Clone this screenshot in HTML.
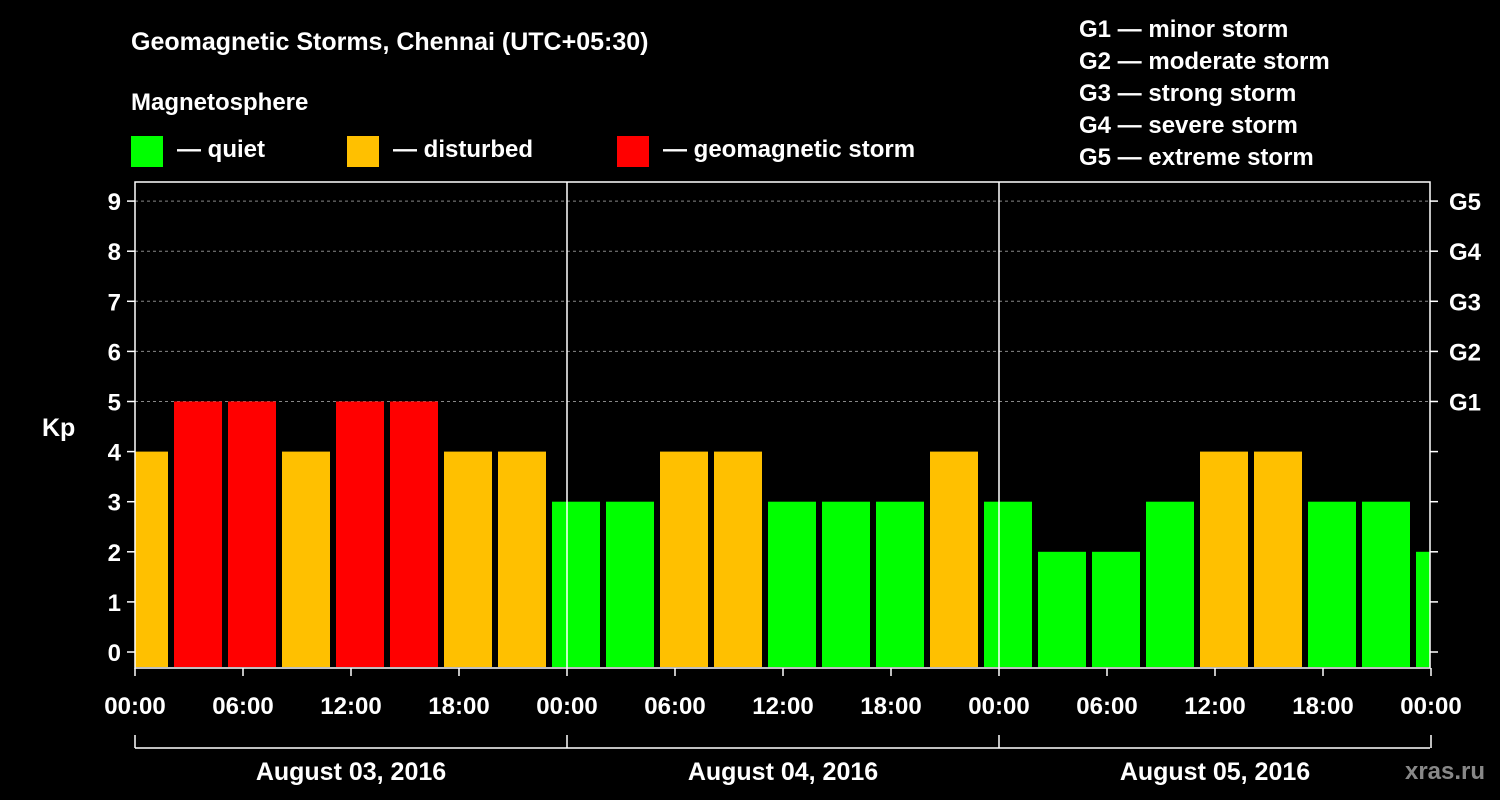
<!DOCTYPE html>
<html><head><meta charset="utf-8"><style>
html,body{margin:0;padding:0;background:#000;}
svg{display:block;font-family:"Liberation Sans",Arial,sans-serif;font-weight:bold;}
</style></head><body>
<svg id="chart" width="1500" height="800" viewBox="0 0 1500 800">
<rect width="1500" height="800" fill="#000"/>
<text x="131" y="50" fill="#fff" font-size="25">Geomagnetic Storms, Chennai (UTC+05:30)</text>
<text x="131" y="110" fill="#fff" font-size="24">Magnetosphere</text>
<g>
<rect x="131" y="136" width="32" height="31" fill="#00ff00"/>
<text x="177" y="157" fill="#fff" font-size="24">— quiet</text>
<rect x="347" y="136" width="32" height="31" fill="#ffc000"/>
<text x="393" y="157" fill="#fff" font-size="24">— disturbed</text>
<rect x="617" y="136" width="32" height="31" fill="#ff0000"/>
<text x="663" y="157" fill="#fff" font-size="24">— geomagnetic storm</text>
</g>
<g fill="#fff" font-size="24">
<text x="1079" y="37">G1 — minor storm</text>
<text x="1079" y="69">G2 — moderate storm</text>
<text x="1079" y="101">G3 — strong storm</text>
<text x="1079" y="133">G4 — severe storm</text>
<text x="1079" y="165">G5 — extreme storm</text>
</g>
<text x="42" y="436" fill="#fff" font-size="25">Kp</text>
<g id="grid"></g>
<g id="bars"></g>
<g id="axes"></g>
<text x="1445" y="779" fill="#888" font-size="24" text-anchor="middle">xras.ru</text>
</svg>
<script>
const kpValues = [4,5,5,4,5,5,4,4, 3,3,4,4,3,3,3,4, 3,2,2,3,4,4,3,3, 2];
const yTicks = [0,1,2,3,4,5,6,7,8,9];
const gLabels = ["G1","G2","G3","G4","G5"];
const xTickLabels = ["00:00","06:00","12:00","18:00","00:00","06:00","12:00","18:00","00:00","06:00","12:00","18:00","00:00"];
const dayLabels = ["August 03, 2016","August 04, 2016","August 05, 2016"];

const NS="http://www.w3.org/2000/svg";
const L=135,R=1430,T=182,B=668;
const y=v=>652-v*50.1;
const xh=h=>L+h*18; // hours from start
function mk(tag,attrs,parent){const e=document.createElementNS(NS,tag);for(const k in attrs)e.setAttribute(k,attrs[k]);parent.appendChild(e);return e;}
const grid=document.getElementById('grid'),bars=document.getElementById('bars'),axes=document.getElementById('axes');
for(let v=5;v<=9;v++){
  const g=mk('line',{x1:L,x2:R,y1:y(v),y2:y(v),stroke:'#888','stroke-dasharray':'3,3','stroke-width':1},grid);
  
  
}
function color(v){return v>=5?'#ff0000':(v>=4?'#ffc000':'#00ff00');}
kpValues.forEach((v,i)=>{
  let x0=xh(-5/6+3*i), x1=x0+48;
  x0=Math.max(x0,L); x1=Math.min(x1,R);
  const r=mk('rect',{x:x0,y:y(v),width:x1-x0,height:668-y(v)-1,fill:color(v)},bars);
  
  
});
const frame=mk('rect',{x:L,y:T,width:R-L,height:B-T,fill:'none',stroke:'#fff','stroke-width':1.5},axes);


[1,2].forEach(d=>{
  const l=mk('line',{x1:xh(24*d),x2:xh(24*d),y1:T,y2:B,stroke:'#fff','stroke-width':1.5},axes);
  
  
});
yTicks.forEach(v=>{
  const t=mk('line',{x1:L-8,x2:L,y1:y(v),y2:y(v),stroke:'#fff','stroke-width':1.5},axes);
  
  
  const t2=mk('line',{x1:R,x2:R+8,y1:y(v),y2:y(v),stroke:'#fff','stroke-width':1.5},axes);
  
  
  const tx=mk('text',{x:L-14,y:y(v)+9,fill:'#fff','font-size':24,'text-anchor':'end'},axes);
  tx.textContent=v;
  
  
});
gLabels.forEach((g,i)=>{
  const tx=mk('text',{x:1449,y:y(5+i)+9,fill:'#fff','font-size':24},axes);
  tx.textContent=g;
  
  
});
xTickLabels.forEach((s,i)=>{
  const x=xh(6*i);
  const t=mk('line',{x1:x,x2:x,y1:B,y2:B+8,stroke:'#fff','stroke-width':1.5},axes);
  
  
  const tx=mk('text',{x:x,y:714,fill:'#fff','font-size':24,'text-anchor':'middle'},axes);
  tx.textContent=s;
  
  
});
const br=mk('line',{x1:L,x2:R,y1:748,y2:748,stroke:'#fff','stroke-width':1.5},axes);


for(let d=0;d<=3;d++){
  const t=mk('line',{x1:xh(24*d),x2:xh(24*d),y1:735,y2:748,stroke:'#fff','stroke-width':1.5},axes);
  
  
}
dayLabels.forEach((s,i)=>{
  const tx=mk('text',{x:xh(24*i+12),y:780,fill:'#fff','font-size':25,'text-anchor':'middle'},axes);
  tx.textContent=s;
  
  
});
</script>
</body></html>
